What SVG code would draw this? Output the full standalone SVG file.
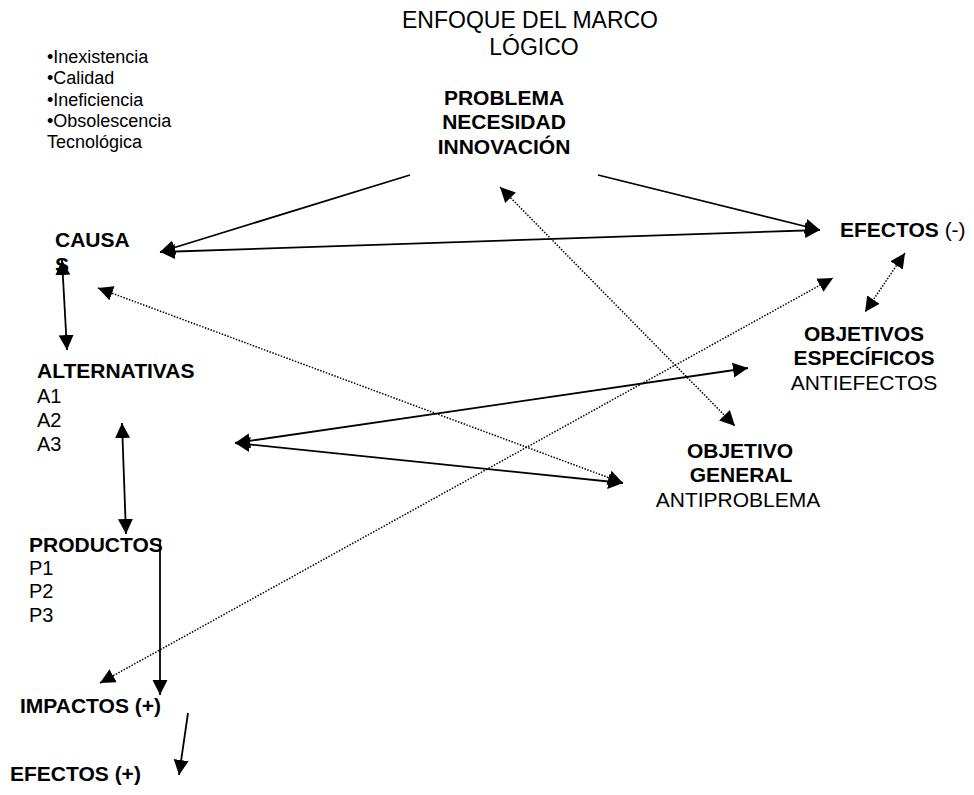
<svg xmlns="http://www.w3.org/2000/svg" width="974" height="795" viewBox="0 0 974 795">
<defs>
<style>
text{font-family:"Liberation Sans",Arial,sans-serif;fill:#000}
.t{font-size:23px}
.r{font-size:18px}
.n{font-size:20px}
.b{font-size:21px;font-weight:bold}
.m{font-size:21px}
.c{text-anchor:middle}
.s{stroke:#000;stroke-width:1.8;fill:none}
.d{stroke:#000;stroke-width:1.5;fill:none;stroke-dasharray:1.5 1.5}
</style>
<marker id="ah" markerUnits="userSpaceOnUse" markerWidth="16" markerHeight="16" viewBox="0 0 16 16" refX="15" refY="8" orient="auto-start-reverse">
<path d="M0,0.5 L15,8 L0,15.5 z" fill="#000"/>
</marker>
</defs>
<rect width="974" height="795" fill="#fff"/>
<g id="title">
<text class="t" x="402" y="28">ENFOQUE DEL MARCO</text>
<text class="t c" x="534" y="55">LÓGICO</text>
</g>
<g id="bullets">
<text class="r" x="47" y="63">•Inexistencia</text>
<text class="r" x="47" y="84">•Calidad</text>
<text class="r" x="47" y="106">•Ineficiencia</text>
<text class="r" x="47" y="127">•Obsolescencia</text>
<text class="r" x="47" y="148">Tecnológica</text>
</g>
<g id="problema">
<text class="b c" x="504" y="105">PROBLEMA</text>
<text class="b c" x="504" y="129">NECESIDAD</text>
<text class="b c" x="504" y="154">INNOVACIÓN</text>
</g>
<g id="causas">
<text class="b" x="55" y="247">CAUSA</text>
<text class="b" x="55" y="272">S</text>
</g>
<g id="efectos-neg">
<text x="840" y="237"><tspan class="b">EFECTOS</tspan><tspan class="m"> (-)</tspan></text>
</g>
<g id="objetivos-especificos">
<text class="b c" x="864" y="341">OBJETIVOS</text>
<text class="b c" x="864" y="365">ESPECÍFICOS</text>
<text class="m c" x="864" y="390">ANTIEFECTOS</text>
</g>
<g id="alternativas">
<text class="b" x="37" y="378">ALTERNATIVAS</text>
<text class="n" x="37" y="403">A1</text>
<text class="n" x="37" y="427">A2</text>
<text class="n" x="37" y="451">A3</text>
</g>
<g id="objetivo-general">
<text class="b c" x="740" y="458">OBJETIVO</text>
<text class="b c" x="741" y="482">GENERAL</text>
<text class="m c" x="738" y="507">ANTIPROBLEMA</text>
</g>
<g id="productos">
<text class="b" x="29" y="552">PRODUCTOS</text>
<text class="n" x="29" y="575">P1</text>
<text class="n" x="29" y="598">P2</text>
<text class="n" x="29" y="622">P3</text>
</g>
<g id="impactos">
<text class="b" x="20" y="713">IMPACTOS (+)</text>
</g>
<g id="efectos-pos">
<text class="b" x="10" y="781">EFECTOS (+)</text>
</g>
<g id="connectors">
<line class="s" x1="410" y1="175" x2="160" y2="252" marker-end="url(#ah)"/>
<line class="s" x1="598" y1="175" x2="820" y2="230" marker-end="url(#ah)"/>
<line class="s" x1="160" y1="252" x2="820" y2="230" marker-start="url(#ah)" marker-end="url(#ah)"/>
<line class="s" x1="62" y1="260" x2="67" y2="350" marker-start="url(#ah)" marker-end="url(#ah)"/>
<line class="s" x1="235" y1="443" x2="748" y2="368" marker-start="url(#ah)" marker-end="url(#ah)"/>
<line class="s" x1="235" y1="443" x2="623" y2="483" marker-start="url(#ah)" marker-end="url(#ah)"/>
<line class="s" x1="122" y1="423" x2="126" y2="534" marker-start="url(#ah)" marker-end="url(#ah)"/>
<line class="s" x1="160" y1="540" x2="160" y2="695" marker-end="url(#ah)"/>
<line class="s" x1="188" y1="713" x2="179" y2="775" marker-end="url(#ah)"/>
<line class="d" x1="98" y1="288" x2="623" y2="483" marker-start="url(#ah)" marker-end="url(#ah)"/>
<line class="d" x1="500" y1="187" x2="735" y2="426" marker-start="url(#ah)" marker-end="url(#ah)"/>
<line class="d" x1="905" y1="253" x2="865" y2="312" marker-start="url(#ah)" marker-end="url(#ah)"/>
<line class="d" x1="100" y1="683" x2="833" y2="278" marker-start="url(#ah)" marker-end="url(#ah)"/>
</g>
</svg>
